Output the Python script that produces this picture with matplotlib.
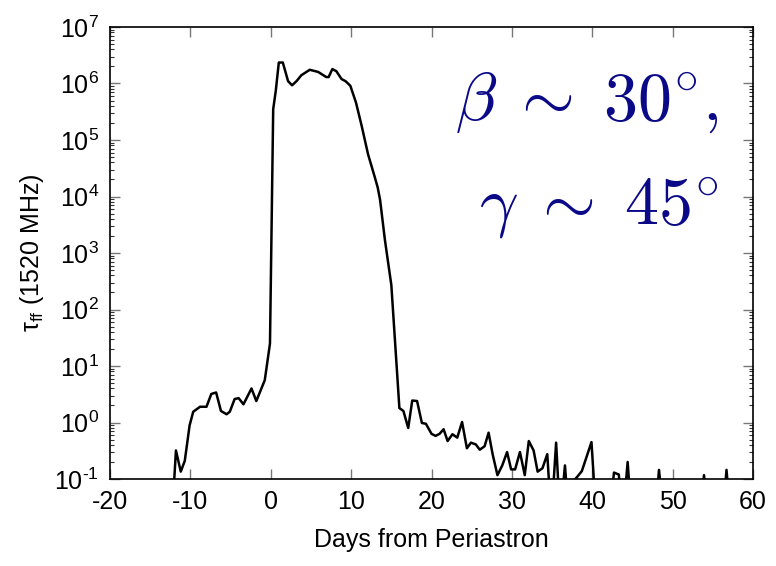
import matplotlib

matplotlib.use("Agg")
import matplotlib.pyplot as plt
from matplotlib.ticker import LogLocator, FixedLocator

plt.rcParams["font.family"] = ["Liberation Sans", "DejaVu Sans"]
plt.rcParams["mathtext.fontset"] = "custom"
plt.rcParams["mathtext.rm"] = "Liberation Sans"
plt.rcParams["mathtext.it"] = "Liberation Sans:italic"
plt.rcParams["mathtext.bf"] = "Liberation Sans:bold"

# days from periastron and free-free optical depth at 1520 MHz
# (values below the plotted floor of 0.1 are drawn off the bottom)
days = [
    -12.6, -12.1, -11.8, -11.2, -10.7, -10.1, -9.65, -8.8, -8.0, -7.4, -6.8,
    -6.2, -5.5, -5.1, -4.5, -4.0, -3.4, -2.4, -1.8, -0.75, -0.1, 0.3, 0.62,
    1.0, 1.5, 2.15, 2.65, 3.2, 3.8, 4.85, 5.9, 6.9, 7.2, 7.66, 8.16, 8.8,
    9.3, 9.9, 10.6, 11.3, 12.1, 12.9, 13.3, 13.6, 14.2, 15.0, 16.0, 16.5,
    17.1, 17.6, 18.2, 18.8, 19.3, 20.0, 20.5, 21.0, 21.5, 22.0, 22.6, 23.2,
    23.8, 24.4, 24.9, 25.5, 26.0, 26.6, 27.1, 27.6, 28.2, 28.8, 29.4, 29.9,
    30.4, 31.0, 31.6, 32.1, 32.7, 33.2, 33.8, 34.4, 34.9, 35.5, 36.0, 36.6,
    37.1, 37.9, 38.7, 39.9, 40.5, 42.1, 42.7, 43.3, 43.8, 44.4, 44.9, 47.8,
    48.3, 48.9, 53.4, 53.9, 54.4, 56.2, 56.7, 57.2, 60.0,
]
tau_ff = [
    0.02, 0.06, 0.32, 0.135, 0.21, 0.89, 1.55, 1.9, 1.9, 3.2, 3.4,
    1.6, 1.4, 1.55, 2.6, 2.7, 2.1, 4.0, 2.4, 5.6, 25.0, 3.5e5, 7.4e5,
    2.35e6, 2.35e6, 1.1e6, 9.3e5, 1.1e6, 1.4e6, 1.75e6, 1.6e6, 1.3e6, 1.3e6, 1.8e6, 1.65e6, 1.2e6,
    1.1e6, 9.1e5, 4.6e5, 1.8e5, 5.6e4, 2.3e4, 1.45e4, 8.7e3, 1.7e3, 270.0, 1.8, 1.6,
    0.8, 2.45, 2.4, 0.98, 0.95, 0.63, 0.58, 0.63, 0.76, 0.47, 0.62, 0.54,
    1.02, 0.35, 0.44, 0.41, 0.33, 0.38, 0.66, 0.275, 0.117, 0.174, 0.30, 0.148,
    0.148, 0.30, 0.117, 0.47, 0.32, 0.135, 0.155, 0.275, 0.02, 0.44, 0.02, 0.174,
    0.02, 0.1, 0.138, 0.45, 0.02, 0.02, 0.13, 0.12, 0.02, 0.2, 0.02, 0.02,
    0.145, 0.02, 0.02, 0.117, 0.02, 0.02, 0.145, 0.02, 0.02,
]

x_ticks = [-20, -10, 0, 10, 20, 30, 40, 50, 60]
y_ticks = [1e-1, 1e0, 1e1, 1e2, 1e3, 1e4, 1e5, 1e6, 1e7]
y_exponents = ["\u20101", "0", "1", "2", "3", "4", "5", "6", "7"]

fig = plt.figure(figsize=(7.76, 5.66), dpi=100)
ax = fig.add_axes([0.1418, 0.1537, 0.8286, 0.7986])

ax.plot(days, tau_ff, color="black", linewidth=1.8)

ax.set_yscale("log")
ax.set_xlim(-20, 60)
ax.set_ylim(1e-1, 1e7)
ax.set_xticks(x_ticks)
ax.set_xticklabels([str(t) for t in x_ticks])
ax.yaxis.set_major_locator(FixedLocator(y_ticks))
ax.set_yticklabels([r"$10^{%s}$" % e for e in y_exponents])
ax.yaxis.set_minor_locator(LogLocator(base=10, subs=range(2, 10), numticks=20))
ax.yaxis.set_minor_formatter(plt.NullFormatter())

ax.tick_params(which="both", direction="in", top=True, right=True, labelsize=18, pad=8)
ax.tick_params(which="major", length=7, width=1, color="#777777")
ax.tick_params(which="minor", length=3, width=0.8, color="#333333")
for spine in ax.spines.values():
    spine.set_linewidth(1.2)

ax.set_xlabel("Days from Periastron", fontsize=18, labelpad=10)
ax.set_ylabel(r"$\mathrm{\tau_{ff}}$ (1520 MHz)", fontsize=18, labelpad=6)

ax.text(0.946, 0.794, r"$\beta\;\sim\;30^{\circ},$", transform=ax.transAxes,
        ha="right", va="baseline", fontsize=49, color="#0a0a88", math_fontfamily="cm")
ax.text(0.946, 0.562, r"$\gamma\;\sim\;45^{\circ}$", transform=ax.transAxes,
        ha="right", va="baseline", fontsize=49, color="#0a0a88", math_fontfamily="cm")

fig.savefig("out.png", dpi=100)
